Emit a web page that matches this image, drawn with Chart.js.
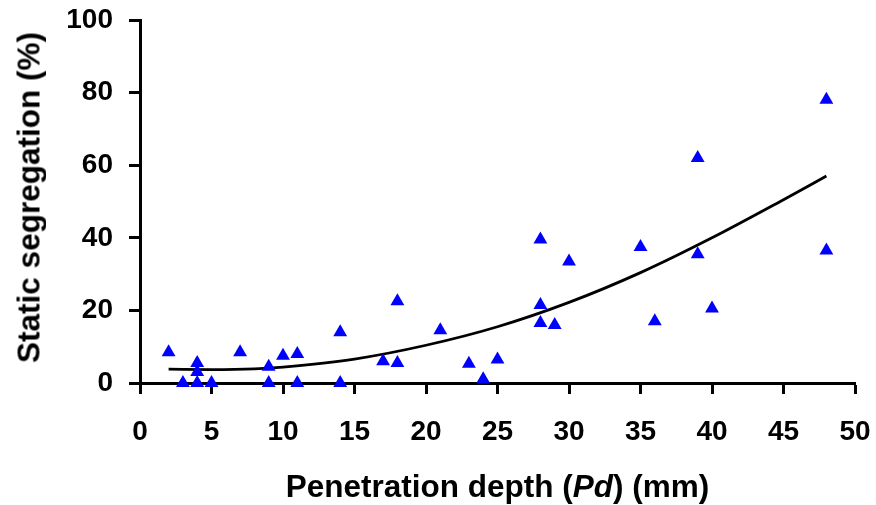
<!DOCTYPE html>
<html>
<head>
<meta charset="utf-8">
<script src="https://cdn.jsdelivr.net/npm/chart.js@4/dist/chart.umd.min.js"></script>
<style>
  html, body { margin: 0; padding: 0; background: #fff; }
  #wrap { position: relative; width: 876px; height: 505px; overflow: hidden; }
  canvas { position: absolute; left: 0; top: 0; }
  .title { position: absolute; font-family: "Liberation Sans", Arial, sans-serif; font-weight: bold; font-size: 31.5px; line-height: 31px; height: 31px; color: #000; text-align: center; white-space: nowrap; }
  #xt { left: 140px; width: 715px; top: 471px; }
  #yt { left: -171px; width: 400px; top: 182px; transform: rotate(-90deg); }
</style>
</head>
<body>
<div id="wrap">
  <canvas id="c" width="876" height="505"></canvas>
  <div class="title" id="xt">Penetration depth (<i>Pd</i>) (mm)</div>
  <div class="title" id="yt">Static segregation (%)</div>
</div>
<script>
// Measured points: penetration depth (mm) vs static segregation (%)
const depth = [2, 3, 4, 4, 4, 5, 7, 9, 9, 10, 11, 11, 14, 14, 17, 18, 18, 21, 23, 24, 25, 28, 28, 28, 29, 30, 35, 36, 39, 39, 40, 48, 48];
const segregation = [8.5, 0, 0, 3, 5.5, 0, 8.5, 4.5, 0, 7.5, 8, 0, 14, 0, 6, 5.5, 22.5, 14.5, 5.3, 1, 6.5, 39.5, 21.5, 16.5, 16, 33.5, 37.5, 17, 62, 35.5, 20.5, 78, 36.5];

// Trend curve
const trendX = [2, 5, 8, 10, 15, 20, 25, 30, 35, 40, 45, 48];
const trendY = [3.8, 3.7, 3.9, 4.4, 6.6, 10.4, 15.5, 22.2, 30.4, 40, 50.5, 57];

// Axis ticks
const xTicks = [0, 5, 10, 15, 20, 25, 30, 35, 40, 45, 50];
const yTicks = [0, 20, 40, 60, 80, 100];

const pts = depth.map((d, i) => ({ x: d, y: segregation[i] }));
const trend = trendX.map((d, i) => ({ x: d, y: trendY[i] }));

const tickFont = { family: '"Liberation Sans", Arial, sans-serif', size: 28, weight: 'bold' };

function zeroPad(s) { s.paddingTop = 0; s.paddingBottom = 0; s.paddingLeft = 0; s.paddingRight = 0; }

new Chart(document.getElementById('c'), {
  type: 'scatter',
  data: {
    datasets: [
      {
        label: 'Measured',
        data: pts,
        pointStyle: 'triangle',
        pointRadius: 8,
        pointHoverRadius: 8,
        backgroundColor: '#0000ff',
        borderColor: '#0000ff',
        borderWidth: 0,
        clip: false,
        order: 1
      },
      {
        label: 'Trend',
        data: trend,
        showLine: true,
        pointRadius: 0,
        borderColor: '#000',
        borderWidth: 2.8,
        tension: 0.4,
        cubicInterpolationMode: 'monotone',
        fill: false,
        order: 2
      }
    ]
  },
  options: {
    responsive: false,
    animation: false,
    devicePixelRatio: 1,
    layout: { padding: { top: 20, right: 21, left: 0, bottom: 0 } },
    plugins: { legend: { display: false }, tooltip: { enabled: false } },
    scales: {
      x: {
        type: 'linear',
        min: 0, max: 50,
        afterFit: s => { s.height = 122; zeroPad(s); },
        afterBuildTicks: s => { s.ticks = xTicks.map(v => ({ value: v })); },
        border: { display: true, color: '#000', width: 3 },
        grid: { display: true, drawOnChartArea: false, drawTicks: true, tickLength: 11, tickColor: '#000', tickWidth: 3 },
        ticks: { color: '#000', font: tickFont, padding: 21, maxRotation: 0, autoSkip: false }
      },
      y: {
        type: 'linear',
        min: 0, max: 100,
        afterFit: s => { s.width = 140; zeroPad(s); },
        afterBuildTicks: s => { s.ticks = yTicks.map(v => ({ value: v })); },
        border: { display: true, color: '#000', width: 3 },
        grid: { display: true, drawOnChartArea: false, drawTicks: true, tickLength: 11, tickColor: '#000', tickWidth: 3 },
        ticks: { color: '#000', font: tickFont, padding: 16, autoSkip: false }
      }
    }
  }
});
</script>
</body>
</html>
